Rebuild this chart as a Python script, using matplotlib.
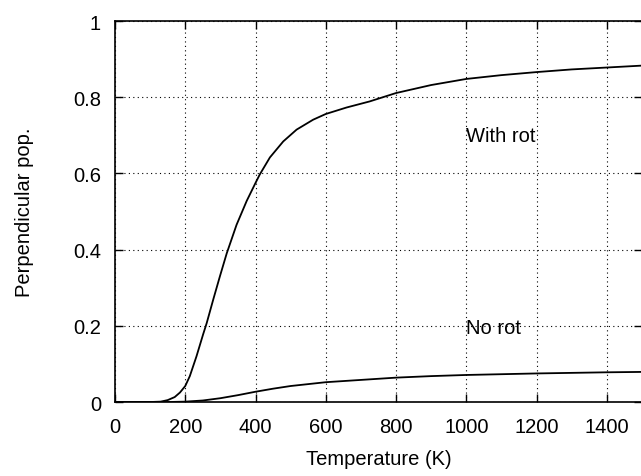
import numpy as np
import matplotlib.pyplot as plt

plt.rcParams['font.family'] = ['Liberation Sans', 'DejaVu Sans']

# temperatures (K) and perpendicular population
t_rot = [0, 100, 130, 150, 170, 185, 200, 213, 232, 251, 261, 280, 299, 318,
         346, 375, 400, 412, 441, 479, 517, 564, 600, 659, 725, 800, 900,
         1000, 1100, 1200, 1300, 1400, 1500]
p_rot = [0, 0, 0.001, 0.005, 0.013, 0.025, 0.042, 0.068, 0.12, 0.178, 0.207,
         0.27, 0.331, 0.39, 0.465, 0.528, 0.575, 0.597, 0.642, 0.684, 0.715,
         0.741, 0.756, 0.773, 0.789, 0.811, 0.832, 0.848, 0.858, 0.866, 0.873,
         0.878, 0.883]

t_norot = [0, 150, 200, 250, 300, 350, 400, 450, 500, 600, 700, 800, 900,
           1000, 1200, 1400, 1500]
p_norot = [0, 0, 0.001, 0.004, 0.01, 0.018, 0.027, 0.035, 0.042, 0.052, 0.058,
           0.064, 0.068, 0.071, 0.075, 0.078, 0.079]

fig = plt.figure(figsize=(6.41, 4.77), dpi=100)
ax = fig.add_axes([0.1794, 0.1551, 0.822, 0.7987])

ax.plot(t_rot, p_rot, color='black', lw=1.3)
ax.plot(t_norot, p_norot, color='black', lw=1.3)

ax.text(1000, 0.70, 'With rot', fontsize=14.5, va='center', ha='left')
ax.text(1000, 0.196, 'No rot', fontsize=14.5, va='center', ha='left')

ax.set_xlim(0, 1500)
ax.set_ylim(0, 1)
ax.set_xticks(np.arange(0, 1401, 200))
ax.set_yticks([0, 0.2, 0.4, 0.6, 0.8, 1])
ax.set_yticklabels(['0', '0.2', '0.4', '0.6', '0.8', '1'])
ax.grid(True, color='black', linestyle=(0, (1, 3)), lw=0.8)
ax.tick_params(direction='in', length=6, width=1, top=True, right=True,
               labelsize=14.5)
ax.tick_params(axis='x', pad=11)
ax.tick_params(axis='y', pad=10)
for s in ax.spines.values():
    s.set_linewidth(1.2)

ax.set_xlabel('Temperature (K)', fontsize=14.5, labelpad=9)
ax.set_ylabel('Perpendicular pop.', fontsize=14.5, labelpad=28)

fig.savefig('out.png', dpi=100)
